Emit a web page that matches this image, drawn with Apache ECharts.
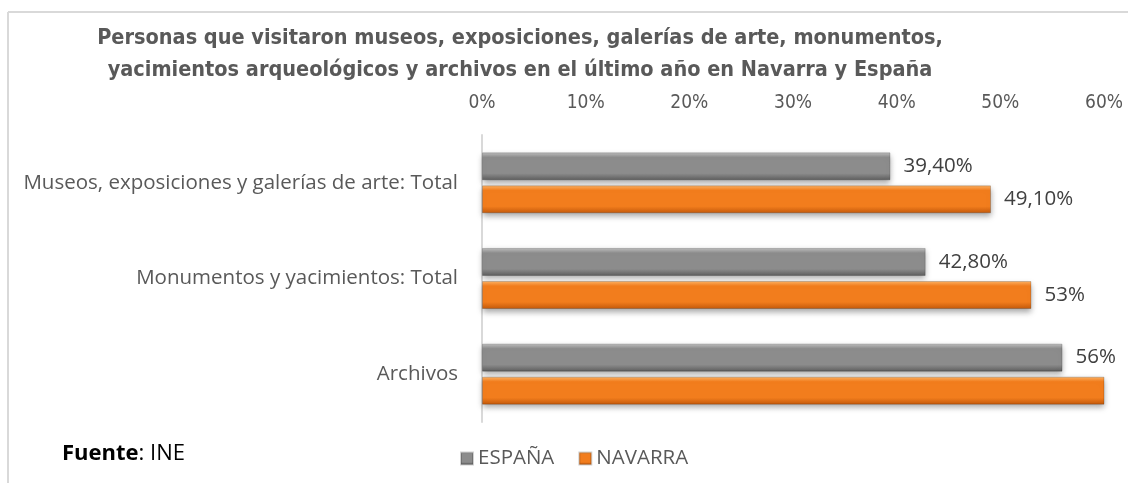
<!DOCTYPE html>
<html>
<head>
<meta charset="utf-8">
<script src="https://cdn.jsdelivr.net/npm/echarts@6/dist/echarts.min.js"></script>
<style>
  html, body { margin: 0; padding: 0; background: #fff; }
  #chart { width: 1128px; height: 483px; }
</style>
</head>
<body>
<div id="chart"></div>
<script>
// Categories (top to bottom) and percentage values per territory
const categories = [
  'Museos, exposiciones y galerías de arte: Total',
  'Monumentos y yacimientos: Total',
  'Archivos'
];
const espana = [39.4, 42.8, 56];
const navarra = [49.1, 53, 62];
const seriesNames = ['ESPAÑA', 'NAVARRA'];
const titleLines = [
  'Personas que visitaron museos, exposiciones, galerías de arte, monumentos,',
  'yacimientos arqueológicos y archivos en el último año en Navarra y España'
];

const narrow = '"Liberation Sans Narrow", "DejaVu Sans Condensed", sans-serif';
const regular = '"Open Sans", "Noto Sans", sans-serif';

// Spanish style value text: 39,40% / 53%
function fmt(v) {
  return Number.isInteger(v) ? v + '%' : v.toFixed(2).replace('.', ',') + '%';
}

function grad(top, mid, bottom) {
  return new echarts.graphic.LinearGradient(0, 0, 0, 1, [
    { offset: 0, color: top },
    { offset: 0.18, color: mid },
    { offset: 0.75, color: mid },
    { offset: 1, color: bottom }
  ]);
}
const grayFill = grad('#c0c0c0', '#8c8c8c', '#5c5c5c');
const orangeFill = grad('#fdb366', '#f27d1d', '#c2580a');

function barSeries(name, values, fill, hideClipped) {
  return {
    name: name,
    type: 'bar',
    barWidth: 28,
    barGap: '18%',
    clip: true,
    data: values.map(v => ({
      value: v,
      label: { show: !(hideClipped && v > 60) }
    })),
    itemStyle: {
      color: fill,
      borderColor: 'rgba(0,0,0,0.18)',
      borderWidth: 1,
      shadowColor: 'rgba(0,0,0,0.35)',
      shadowBlur: 6,
      shadowOffsetY: 3
    },
    label: {
      show: true,
      position: 'right',
      distance: 13,
      fontFamily: regular,
      fontSize: 20.5,
      color: '#404040',
      formatter: p => fmt(p.value)
    }
  };
}

const chart = echarts.init(document.getElementById('chart'));
chart.setOption({
  animation: false,
  backgroundColor: '#ffffff',
  grid: { left: 482, right: 24, top: 135, height: 287, containLabel: false },
  xAxis: {
    type: 'value',
    position: 'top',
    min: 0,
    max: 60,
    interval: 10,
    axisLine: { show: false },
    axisTick: { show: false },
    splitLine: { show: false },
    axisLabel: {
      formatter: '{value}%',
      fontFamily: narrow,
      fontSize: 19,
      color: '#595959',
      margin: 22
    }
  },
  yAxis: {
    type: 'category',
    inverse: true,
    data: categories,
    axisLine: { show: true, lineStyle: { color: '#d9d9d9', width: 2 } },
    axisTick: { show: false },
    axisLabel: {
      fontFamily: regular,
      fontSize: 20.5,
      color: '#595959',
      margin: 24
    }
  },
  legend: {
    left: 455,
    top: 443,
    itemWidth: 12,
    itemHeight: 12,
    itemGap: 24,
    icon: 'rect',
    textStyle: { fontFamily: regular, fontSize: 20.5, color: '#595959' },
    data: seriesNames
  },
  series: [
    barSeries(seriesNames[0], espana, grayFill, false),
    barSeries(seriesNames[1], navarra, orangeFill, true)
  ],
  graphic: [
    // outer frame (top and left edges)
    { type: 'line', shape: { x1: 8, y1: 12, x2: 1128, y2: 12 }, style: { stroke: '#d9d9d9', lineWidth: 2 } },
    { type: 'line', shape: { x1: 8, y1: 12, x2: 8, y2: 483 }, style: { stroke: '#d9d9d9', lineWidth: 2 } },
    {
      type: 'text', x: 520, y: 22,
      style: {
        text: titleLines.join('\n'),
        font: 'bold 21.5px ' + narrow,
        fill: '#595959',
        lineHeight: 32,
        align: 'center',
        verticalAlign: 'top'
      }
    },
    {
      type: 'text', left: 62, top: 443,
      style: {
        text: '{b|Fuente}: INE',
        fontFamily: regular,
        fontSize: 22,
        fill: '#000',
        rich: { b: { fontWeight: 'bold', fontFamily: regular, fontSize: 22, fill: '#000' } }
      }
    }
  ]
});
</script>
</body>
</html>
